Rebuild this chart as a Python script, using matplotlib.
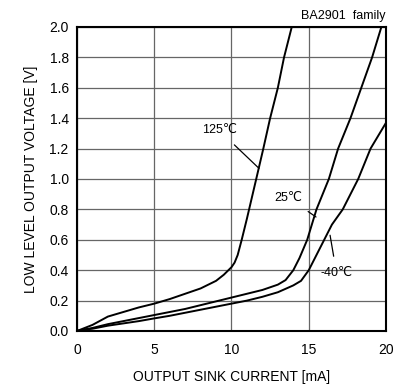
import matplotlib
matplotlib.use("Agg")
import matplotlib.pyplot as plt
import numpy as np

plt.rcParams['font.family'] = ['Liberation Sans', 'DejaVu Sans']

# Data
i_125 = [0, 0.5, 1, 2, 3, 4, 5, 6, 7, 8, 9, 9.5, 10, 10.2, 10.4, 10.66, 11.0, 11.3, 11.6, 12.06, 12.5, 13.0, 13.4, 13.9]
v_125 = [0, 0.02, 0.04, 0.095, 0.125, 0.155, 0.18, 0.21, 0.245, 0.28, 0.33, 0.37, 0.42, 0.45, 0.5, 0.6, 0.74, 0.87, 1.0, 1.2, 1.4, 1.6, 1.8, 2.0]

i_25 = [0, 0.5, 1, 2, 3, 4, 5, 6, 7, 8, 9, 10, 11, 12, 13, 13.5, 14.0, 14.4, 14.9, 15.5, 16.3, 16.9, 17.7, 18.4, 19.1, 19.7]
v_25 = [0, 0.01, 0.02, 0.045, 0.065, 0.085, 0.105, 0.125, 0.145, 0.17, 0.195, 0.22, 0.245, 0.27, 0.305, 0.335, 0.4, 0.48, 0.6, 0.8, 1.0, 1.2, 1.4, 1.6, 1.8, 2.0]

i_m40 = [0, 0.5, 1, 2, 3, 4, 5, 6, 7, 8, 9, 10, 11, 12, 13, 14, 14.5, 15, 15.5, 16, 16.5, 17.2, 18.2, 19.0, 20.0]
v_m40 = [0, 0.01, 0.015, 0.035, 0.05, 0.065, 0.083, 0.1, 0.12, 0.14, 0.16, 0.18, 0.2, 0.225, 0.255, 0.3, 0.33, 0.4, 0.5, 0.6, 0.7, 0.8, 1.0, 1.2, 1.37]

x_ticks = [0, 5, 10, 15, 20]
y_ticks = [0.0, 0.2, 0.4, 0.6, 0.8, 1.0, 1.2, 1.4, 1.6, 1.8, 2.0]

fig = plt.figure(figsize=(4.10, 3.89), dpi=100)
ax = fig.add_axes([77/410, 1 - 331/389, (386-77)/410, (331-27)/389])

for xs, ys in [(i_125, v_125), (i_25, v_25), (i_m40, v_m40)]:
    ax.plot(xs, ys, color='black', lw=1.4, solid_joinstyle='round')

ax.set_xlim(0, 20)
ax.set_ylim(0, 2.0)
ax.set_xticks(x_ticks)
ax.set_yticks(y_ticks)
ax.set_yticklabels([f"{v:.1f}" for v in y_ticks])
ax.tick_params(length=0, labelsize=10, pad=6)
ax.tick_params(axis='x', pad=9)
ax.grid(True, color='#666666', lw=0.9)
ax.set_axisbelow(True)
for s in ax.spines.values():
    s.set_linewidth(1.5)
    s.set_color('black')

ax.set_xlabel("OUTPUT SINK CURRENT [mA]", fontsize=10, labelpad=9)
ax.set_ylabel("LOW LEVEL OUTPUT VOLTAGE [V]", fontsize=10, labelpad=8)

# annotations
ax.annotate("125℃", xy=(11.78, 1.07), xytext=(9.2, 1.32), fontsize=9,
            ha='center', va='center',
            arrowprops=dict(arrowstyle='-', lw=0.9, color='black', shrinkA=6, shrinkB=0))
ax.annotate("25℃", xy=(15.47, 0.75), xytext=(13.7, 0.875), fontsize=9,
            ha='center', va='center',
            arrowprops=dict(arrowstyle='-', lw=0.9, color='black', shrinkA=6, shrinkB=0))
ax.annotate("-40℃", xy=(16.38, 0.63), xytext=(16.8, 0.38), fontsize=9,
            ha='center', va='center',
            arrowprops=dict(arrowstyle='-', lw=0.9, color='black', shrinkA=6, shrinkB=0))
ax.text(20, 2.03, "BA2901  family", fontsize=9, ha='right', va='bottom')

fig.savefig("out.png", dpi=100)
